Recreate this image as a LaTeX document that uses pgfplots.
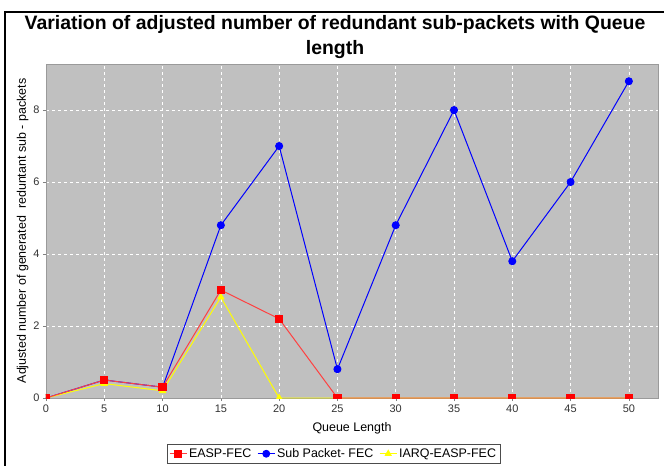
\documentclass[border=0pt]{standalone}
\usepackage{pgfplots}
\pgfplotsset{compat=1.18}
\usepackage{fontspec}
\setmainfont{Liberation Sans}
\definecolor{bggray}{RGB}{192,192,192}
\definecolor{jred}{RGB}{255,0,0}
\definecolor{jblue}{RGB}{0,0,255}
\definecolor{jyellow}{RGB}{255,255,0}
\begin{document}
\begin{tikzpicture}
\fill[white] (-46bp,-68bp) rectangle (618bp,398bp);
\begin{axis}[
  at={(0,0)}, anchor=origin,
  scale only axis, width=612bp, height=334bp,
  xmin=0, xmax=52.5, ymin=0, ymax=9.28,
  axis background/.style={fill=bggray},
  axis line style={draw=bggray!80!black},
  xtick={0,5,...,50}, ytick={0,2,4,6,8},
  tick style={draw=gray, line width=0.4pt},
  major tick length=3bp,
  tick align=outside,
  xtick pos=bottom, ytick pos=left,
  grid=major,
  grid style={white, dashed, line width=0.5pt},
  ticklabel style={font=\fontsize{11}{13}\selectfont, text=black!80},
  /pgf/number format/assume math mode=true,
  xlabel={Queue Length},
  ylabel={Adjusted number of generated\ \ reduntant sub - packets},
  label style={font=\fontsize{12.5}{14}\selectfont},
  xlabel style={yshift=-3bp},
  ylabel style={yshift=-2bp},
  clip marker paths=true,
  legend style={at={(0.47,-0.138)}, anchor=north, legend columns=-1,
    font=\fontsize{12.5}{14}\selectfont, draw=black!70, line width=0.8pt,
    inner sep=2pt, /tikz/every even column/.append style={column sep=4bp}},
  legend image post style={line width=0.8pt},
]
\addlegendimage{color=jred!75!white, line width=1pt, mark=square*, mark size=3.6bp, mark options={fill=jred, draw=jred}}
\addlegendentry{EASP-FEC}
\addlegendimage{color=jblue, line width=1pt, mark=*, mark size=3.5bp, mark options={fill=jblue, draw=jblue}}
\addlegendentry{Sub Packet- FEC}
\addlegendimage{color=jyellow, line width=1pt, mark=triangle*, mark size=3.5bp, mark options={fill=jyellow, draw=jyellow}}
\addlegendentry{IARQ-EASP-FEC}
\addplot[forget plot, color=jblue, line width=1pt, mark=*, mark size=3.5bp, mark options={fill=jblue, draw=jblue}]
  coordinates {(0,0)(5,0.5)(10,0.3)(15,4.8)(20,7.0)(25,0.8)(30,4.8)(35,8.0)(40,3.8)(45,6.0)(50,8.8)};
\addplot[forget plot, color=jyellow, line width=1pt, mark=triangle*, mark size=3.5bp, mark options={fill=jyellow, draw=jyellow}]
  coordinates {(0,0)(5,0.4)(10,0.2)(15,2.8)(20,0)(25,0)(30,0)(35,0)(40,0)(45,0)(50,0)};
\addplot[forget plot, color=jred!75!white, line width=1pt, mark=square*, mark size=3.6bp, mark options={fill=jred, draw=jred}]
  coordinates {(0,0)(5,0.5)(10,0.3)(15,3.0)(20,2.2)(25,0)(30,0)(35,0)(40,0)(45,0)(50,0)};
\end{axis}
\path[use as bounding box] (-46bp,-68bp) rectangle (618bp,398bp);
\draw[black,line width=1.2bp] (-41bp,-68bp) -- (-41bp,386bp) -- (618bp,386bp);
\node[font=\bfseries\fontsize{19.5}{26}\selectfont,align=center] at (289bp,361bp) {Variation of adjusted number of redundant sub-packets with Queue\\length};
\end{tikzpicture}
\end{document}
